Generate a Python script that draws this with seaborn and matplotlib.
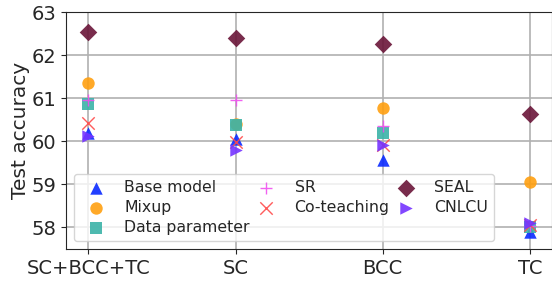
import matplotlib
matplotlib.use("Agg")
import matplotlib.pyplot as plt
import pandas as pd
import seaborn as sns

datasets = ["SC+BCC+TC", "SC", "BCC", "TC"]
methods = ["Base model", "Mixup", "Data parameter", "SR", "Co-teaching", "SEAL", "CNLCU"]

base_model = [60.18, 60.04, 59.56, 57.90]
mixup = [61.36, 60.40, 60.76, 59.05]
data_parameter = [60.87, 60.38, 60.20, 58.00]
sr = [60.95, 60.95, 60.36, 58.02]
co_teaching = [60.43, 59.97, 59.90, 58.05]
seal = [62.54, 62.40, 62.25, 60.64]
cnlcu = [60.12, 59.80, 59.92, 58.10]

colors = {
    "Base model": "#0a2aff",
    "Mixup": "#ffa010",
    "Data parameter": "#3bb3a8",
    "SR": "#f050f0",
    "Co-teaching": "#ff4a4a",
    "SEAL": "#6a1538",
    "CNLCU": "#7533ff",
}
markers = {
    "Base model": "^",
    "Mixup": "o",
    "Data parameter": "s",
    "SR": "+",
    "Co-teaching": "x",
    "SEAL": "D",
    "CNLCU": ">",
}

values = [base_model, mixup, data_parameter, sr, co_teaching, seal, cnlcu]
df = pd.DataFrame(
    [(d, m, v) for m, vals in zip(methods, values) for d, v in zip(datasets, vals)],
    columns=["dataset", "method", "acc"],
)

sns.set_style("ticks")
plt.rcParams["font.family"] = ["DejaVu Sans"]

fig = plt.figure(figsize=(5.52, 2.86), dpi=100)
ax = fig.add_axes([0.12, 0.13, 0.88, 0.828])

for m in methods:
    sub = df[df["method"] == m]
    sns.scatterplot(
        data=sub, x="dataset", y="acc", ax=ax, color=colors[m], marker=markers[m],
        s=80, alpha=0.9, label=m, linewidth=1 if markers[m] in "+x" else 0,
        zorder=3,
    )

ax.set_xlim(-0.15, 3.15)
ax.set_ylim(57.5, 63)
ax.set_yticks([58, 59, 60, 61, 62, 63])
ax.grid(True, color="#b0b0b0", linewidth=1.2)
ax.set_axisbelow(True)
ax.set_xlabel("")
ax.set_ylabel("Test accuracy", fontsize=14.5, labelpad=1.5)
ax.tick_params(labelsize=14)
ax.legend(ncol=3, loc="lower left", fontsize=11.3, framealpha=0.8,
          borderaxespad=0.5, columnspacing=0.05, labelspacing=0.3)

fig.savefig("out.png", dpi=100)
